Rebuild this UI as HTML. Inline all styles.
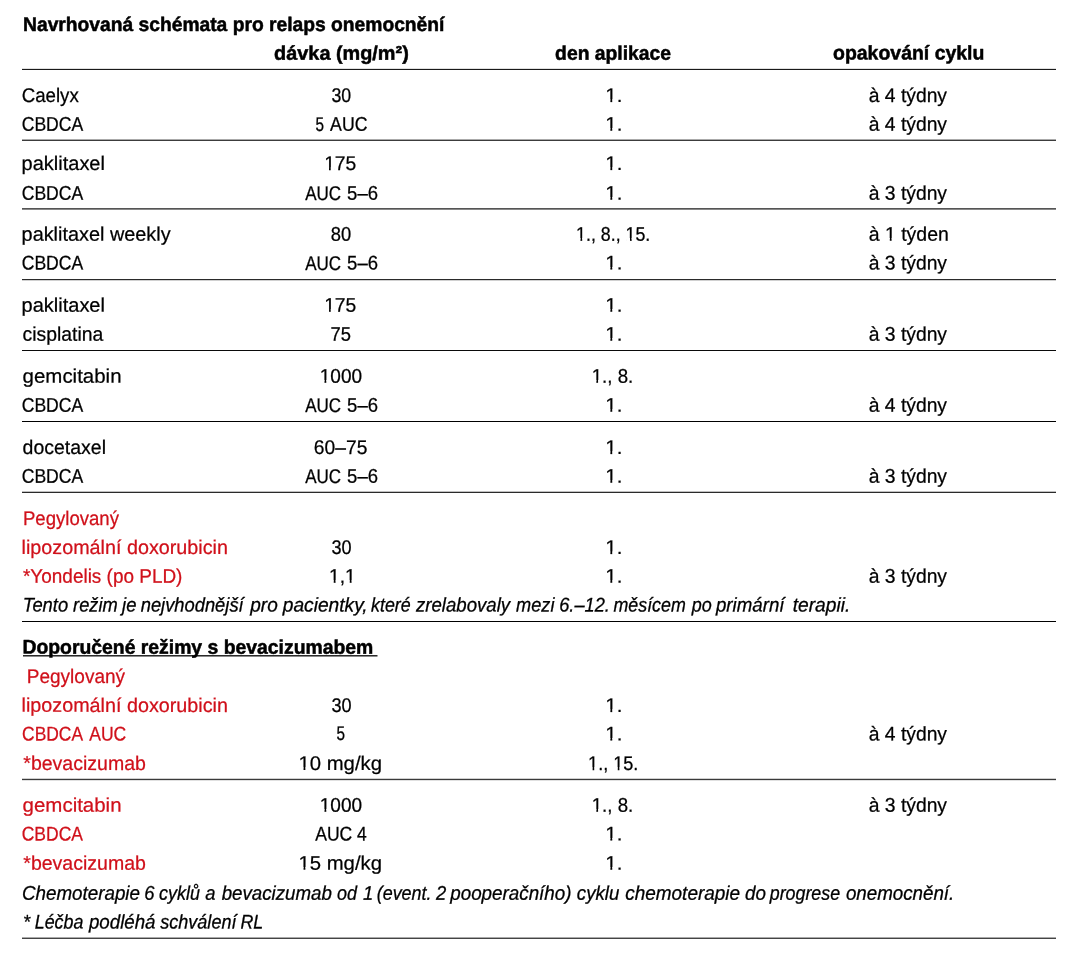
<!DOCTYPE html>
<html><head><meta charset="utf-8"><style>
html,body{margin:0;padding:0;background:#fff;}
svg{display:block;will-change:transform;}
text{font-family:"Liberation Sans",sans-serif;font-size:19.8px;white-space:pre;stroke-linejoin:round;}
</style></head><body>
<svg width="1078" height="956" viewBox="0 0 1078 956">
<defs><clipPath id="c6" clipPathUnits="userSpaceOnUse"><rect x="-5" y="-25" width="26.50" height="22.4"/><rect x="-5.00" y="-2.6" width="5.61" height="10"/><rect x="4.96" y="-2.6" width="1.79" height="10"/><rect x="10.95" y="-2.6" width="10.55" height="10"/></clipPath>
<clipPath id="c11" clipPathUnits="userSpaceOnUse"><rect x="-5" y="-25" width="26.50" height="22.4"/><rect x="-5.00" y="-2.6" width="5.61" height="10"/><rect x="4.96" y="-2.6" width="1.79" height="10"/><rect x="10.95" y="-2.6" width="10.55" height="10"/></clipPath>
<clipPath id="c14" clipPathUnits="userSpaceOnUse"><rect x="-5" y="-25" width="43.00" height="22.4"/><rect x="-5.00" y="-2.6" width="5.61" height="10"/><rect x="4.96" y="-2.6" width="1.79" height="10"/><rect x="10.95" y="-2.6" width="27.06" height="10"/></clipPath>
<clipPath id="c15" clipPathUnits="userSpaceOnUse"><rect x="-5" y="-25" width="26.50" height="22.4"/><rect x="-5.00" y="-2.6" width="5.61" height="10"/><rect x="4.96" y="-2.6" width="1.79" height="10"/><rect x="10.95" y="-2.6" width="10.55" height="10"/></clipPath>
<clipPath id="c19" clipPathUnits="userSpaceOnUse"><rect x="-5" y="-25" width="26.50" height="22.4"/><rect x="-5.00" y="-2.6" width="5.61" height="10"/><rect x="4.96" y="-2.6" width="1.79" height="10"/><rect x="10.95" y="-2.6" width="10.55" height="10"/></clipPath>
<clipPath id="c23" clipPathUnits="userSpaceOnUse"><rect x="-5" y="-25" width="92.48" height="22.4"/><rect x="-5.00" y="-2.6" width="5.61" height="10"/><rect x="4.96" y="-2.6" width="1.79" height="10"/><rect x="10.95" y="-2.6" width="44.64" height="10"/><rect x="59.94" y="-2.6" width="1.79" height="10"/><rect x="65.92" y="-2.6" width="21.55" height="10"/></clipPath>
<clipPath id="c24" clipPathUnits="userSpaceOnUse"><rect x="-5" y="-25" width="91.39" height="22.4"/><rect x="-5.00" y="-2.6" width="22.11" height="10"/><rect x="21.46" y="-2.6" width="1.79" height="10"/><rect x="27.44" y="-2.6" width="58.94" height="10"/></clipPath>
<clipPath id="c28" clipPathUnits="userSpaceOnUse"><rect x="-5" y="-25" width="26.50" height="22.4"/><rect x="-5.00" y="-2.6" width="5.61" height="10"/><rect x="4.96" y="-2.6" width="1.79" height="10"/><rect x="10.95" y="-2.6" width="10.55" height="10"/></clipPath>
<clipPath id="c31" clipPathUnits="userSpaceOnUse"><rect x="-5" y="-25" width="43.00" height="22.4"/><rect x="-5.00" y="-2.6" width="5.61" height="10"/><rect x="4.96" y="-2.6" width="1.79" height="10"/><rect x="10.95" y="-2.6" width="27.06" height="10"/></clipPath>
<clipPath id="c32" clipPathUnits="userSpaceOnUse"><rect x="-5" y="-25" width="26.50" height="22.4"/><rect x="-5.00" y="-2.6" width="5.61" height="10"/><rect x="4.96" y="-2.6" width="1.79" height="10"/><rect x="10.95" y="-2.6" width="10.55" height="10"/></clipPath>
<clipPath id="c35" clipPathUnits="userSpaceOnUse"><rect x="-5" y="-25" width="26.50" height="22.4"/><rect x="-5.00" y="-2.6" width="5.61" height="10"/><rect x="4.96" y="-2.6" width="1.79" height="10"/><rect x="10.95" y="-2.6" width="10.55" height="10"/></clipPath>
<clipPath id="c38" clipPathUnits="userSpaceOnUse"><rect x="-5" y="-25" width="54.01" height="22.4"/><rect x="-5.00" y="-2.6" width="5.61" height="10"/><rect x="4.96" y="-2.6" width="1.79" height="10"/><rect x="10.95" y="-2.6" width="38.06" height="10"/></clipPath>
<clipPath id="c39" clipPathUnits="userSpaceOnUse"><rect x="-5" y="-25" width="53.99" height="22.4"/><rect x="-5.00" y="-2.6" width="5.61" height="10"/><rect x="4.96" y="-2.6" width="1.79" height="10"/><rect x="10.95" y="-2.6" width="38.04" height="10"/></clipPath>
<clipPath id="c43" clipPathUnits="userSpaceOnUse"><rect x="-5" y="-25" width="26.50" height="22.4"/><rect x="-5.00" y="-2.6" width="5.61" height="10"/><rect x="4.96" y="-2.6" width="1.79" height="10"/><rect x="10.95" y="-2.6" width="10.55" height="10"/></clipPath>
<clipPath id="c47" clipPathUnits="userSpaceOnUse"><rect x="-5" y="-25" width="26.50" height="22.4"/><rect x="-5.00" y="-2.6" width="5.61" height="10"/><rect x="4.96" y="-2.6" width="1.79" height="10"/><rect x="10.95" y="-2.6" width="10.55" height="10"/></clipPath>
<clipPath id="c51" clipPathUnits="userSpaceOnUse"><rect x="-5" y="-25" width="26.50" height="22.4"/><rect x="-5.00" y="-2.6" width="5.61" height="10"/><rect x="4.96" y="-2.6" width="1.79" height="10"/><rect x="10.95" y="-2.6" width="10.55" height="10"/></clipPath>
<clipPath id="c56" clipPathUnits="userSpaceOnUse"><rect x="-5" y="-25" width="26.50" height="22.4"/><rect x="-5.00" y="-2.6" width="5.61" height="10"/><rect x="4.96" y="-2.6" width="1.79" height="10"/><rect x="10.95" y="-2.6" width="10.55" height="10"/></clipPath>
<clipPath id="c58" clipPathUnits="userSpaceOnUse"><rect x="-5" y="-25" width="37.50" height="22.4"/><rect x="-5.00" y="-2.6" width="5.61" height="10"/><rect x="4.96" y="-2.6" width="1.79" height="10"/><rect x="10.95" y="-2.6" width="6.16" height="10"/><rect x="21.46" y="-2.6" width="1.79" height="10"/><rect x="27.44" y="-2.6" width="5.06" height="10"/></clipPath>
<clipPath id="c59" clipPathUnits="userSpaceOnUse"><rect x="-5" y="-25" width="26.50" height="22.4"/><rect x="-5.00" y="-2.6" width="5.61" height="10"/><rect x="4.96" y="-2.6" width="1.79" height="10"/><rect x="10.95" y="-2.6" width="10.55" height="10"/></clipPath>
<clipPath id="c79" clipPathUnits="userSpaceOnUse"><rect x="-5" y="-25" width="26.50" height="22.4"/><rect x="-5.00" y="-2.6" width="5.61" height="10"/><rect x="4.96" y="-2.6" width="1.79" height="10"/><rect x="10.95" y="-2.6" width="10.55" height="10"/></clipPath>
<clipPath id="c83" clipPathUnits="userSpaceOnUse"><rect x="-5" y="-25" width="26.50" height="22.4"/><rect x="-5.00" y="-2.6" width="5.61" height="10"/><rect x="4.96" y="-2.6" width="1.79" height="10"/><rect x="10.95" y="-2.6" width="10.55" height="10"/></clipPath>
<clipPath id="c86" clipPathUnits="userSpaceOnUse"><rect x="-5" y="-25" width="91.37" height="22.4"/><rect x="-5.00" y="-2.6" width="5.61" height="10"/><rect x="4.96" y="-2.6" width="1.79" height="10"/><rect x="10.95" y="-2.6" width="75.42" height="10"/></clipPath>
<clipPath id="c87" clipPathUnits="userSpaceOnUse"><rect x="-5" y="-25" width="64.99" height="22.4"/><rect x="-5.00" y="-2.6" width="5.61" height="10"/><rect x="4.96" y="-2.6" width="1.79" height="10"/><rect x="10.95" y="-2.6" width="17.15" height="10"/><rect x="32.45" y="-2.6" width="1.79" height="10"/><rect x="38.43" y="-2.6" width="21.55" height="10"/></clipPath>
<clipPath id="c89" clipPathUnits="userSpaceOnUse"><rect x="-5" y="-25" width="54.01" height="22.4"/><rect x="-5.00" y="-2.6" width="5.61" height="10"/><rect x="4.96" y="-2.6" width="1.79" height="10"/><rect x="10.95" y="-2.6" width="38.06" height="10"/></clipPath>
<clipPath id="c90" clipPathUnits="userSpaceOnUse"><rect x="-5" y="-25" width="53.99" height="22.4"/><rect x="-5.00" y="-2.6" width="5.61" height="10"/><rect x="4.96" y="-2.6" width="1.79" height="10"/><rect x="10.95" y="-2.6" width="38.04" height="10"/></clipPath>
<clipPath id="c95" clipPathUnits="userSpaceOnUse"><rect x="-5" y="-25" width="26.50" height="22.4"/><rect x="-5.00" y="-2.6" width="5.61" height="10"/><rect x="4.96" y="-2.6" width="1.79" height="10"/><rect x="10.95" y="-2.6" width="10.55" height="10"/></clipPath>
<clipPath id="c97" clipPathUnits="userSpaceOnUse"><rect x="-5" y="-25" width="91.37" height="22.4"/><rect x="-5.00" y="-2.6" width="5.61" height="10"/><rect x="4.96" y="-2.6" width="1.79" height="10"/><rect x="10.95" y="-2.6" width="75.42" height="10"/></clipPath>
<clipPath id="c98" clipPathUnits="userSpaceOnUse"><rect x="-5" y="-25" width="26.50" height="22.4"/><rect x="-5.00" y="-2.6" width="5.61" height="10"/><rect x="4.96" y="-2.6" width="1.79" height="10"/><rect x="10.95" y="-2.6" width="10.55" height="10"/></clipPath></defs>
<rect width="1078" height="956" fill="#fff"/>
<rect x="22" y="68" width="1034" height="1" fill="#e0e0e0"/>
<rect x="22" y="69" width="1034" height="1" fill="#1a1a1a"/>
<rect x="22" y="139" width="1034" height="1" fill="#aaaaaa"/>
<rect x="22" y="140" width="1034" height="1" fill="#3c3c3c"/>
<rect x="22" y="208" width="1034" height="1" fill="#555555"/>
<rect x="22" y="209" width="1034" height="1" fill="#888888"/>
<rect x="22" y="279" width="1034" height="1" fill="#2a2a2a"/>
<rect x="22" y="280" width="1034" height="1" fill="#d0d0d0"/>
<rect x="22" y="350" width="1034" height="1" fill="#0a0a0a"/>
<rect x="22" y="421" width="1034" height="1" fill="#000000"/>
<rect x="22" y="491" width="1034" height="1" fill="#c0c0c0"/>
<rect x="22" y="492" width="1034" height="1" fill="#2a2a2a"/>
<rect x="22" y="621" width="1034" height="1" fill="#000000"/>
<rect x="22" y="778" width="1034" height="1" fill="#d0d0d0"/>
<rect x="22" y="779" width="1034" height="1" fill="#3a3a3a"/>
<rect x="22" y="780" width="1034" height="1" fill="#e0e0e0"/>
<rect x="22" y="937" width="1034" height="1" fill="#aaaaaa"/>
<rect x="22" y="938" width="1034" height="1" fill="#444444"/>
<rect x="23" y="655" width="354.5" height="1" fill="#2a2a2a"/>
<rect x="23" y="656" width="354.5" height="1" fill="#8a8a8a"/>
<text transform="translate(234.90 31.00) rotate(0.03) translate(-211.87 0) scale(0.9727 1)" font-weight="bold" fill="#000" stroke="#000" stroke-width="0.50">Navrhovaná schémata pro relaps onemocnění</text>
<text transform="translate(341.10 59.70) rotate(0.03) translate(-67.00 0) scale(1.0036 1)" font-weight="bold" fill="#000" stroke="#000" stroke-width="0.50">dávka (mg/m²)</text>
<text transform="translate(613.05 59.80) rotate(0.03) translate(-57.95 0) scale(0.9760 1)" font-weight="bold" fill="#000" stroke="#000" stroke-width="0.50">den aplikace</text>
<text transform="translate(908.15 59.50) rotate(0.03) translate(-75.15 0) scale(0.9834 1)" font-weight="bold" fill="#000" stroke="#000" stroke-width="0.50">opakování cyklu</text>
<text transform="translate(50.70 101.90) rotate(0.03) translate(-29.04 0) scale(0.9434 1)" fill="#000" stroke="#000" stroke-width="0.25">Caelyx</text>
<text transform="translate(341.35 101.90) rotate(0.03) translate(-9.85 0) scale(0.8954 1)" fill="#000" stroke="#000" stroke-width="0.27">30</text>
<text transform="translate(613.80 101.90) rotate(0.03) translate(-8.58 0) scale(1.0384 1)" fill="#000" stroke="#000" stroke-width="0.23" clip-path="url(#c6)">1.</text>
<text transform="translate(907.90 101.90) rotate(0.03) translate(-39.20 0) scale(0.9753 1)" fill="#000" stroke="#000" stroke-width="0.25">à 4 týdny</text>
<text transform="translate(53.25 130.70) rotate(0.03) translate(-31.54 0) scale(0.8878 1)" fill="#000" stroke="#000" stroke-width="0.27">CBDCA</text>
<text transform="translate(319.85 130.70) rotate(0.03) translate(-4.25 0) scale(0.7727 1)" fill="#000" stroke="#000" stroke-width="0.31">5</text>
<text transform="translate(348.65 130.70) rotate(0.03) translate(-18.55 0) scale(0.8944 1)" fill="#000" stroke="#000" stroke-width="0.27">AUC</text>
<text transform="translate(613.80 130.70) rotate(0.03) translate(-8.58 0) scale(1.0384 1)" fill="#000" stroke="#000" stroke-width="0.23" clip-path="url(#c11)">1.</text>
<text transform="translate(907.90 130.70) rotate(0.03) translate(-39.20 0) scale(0.9753 1)" fill="#000" stroke="#000" stroke-width="0.25">à 4 týdny</text>
<text transform="translate(63.55 169.90) rotate(0.03) translate(-41.96 0) scale(1.0102 1)" fill="#000" stroke="#000" stroke-width="0.24">paklitaxel</text>
<text transform="translate(341.15 169.90) rotate(0.03) translate(-17.01 0) scale(0.9743 1)" fill="#000" stroke="#000" stroke-width="0.25" clip-path="url(#c14)">175</text>
<text transform="translate(613.80 169.90) rotate(0.03) translate(-8.58 0) scale(1.0384 1)" fill="#000" stroke="#000" stroke-width="0.23" clip-path="url(#c15)">1.</text>
<text transform="translate(53.25 199.70) rotate(0.03) translate(-31.54 0) scale(0.8878 1)" fill="#000" stroke="#000" stroke-width="0.27">CBDCA</text>
<text transform="translate(323.00 199.70) rotate(0.03) translate(-17.80 0) scale(0.8583 1)" fill="#000" stroke="#000" stroke-width="0.28">AUC</text>
<text transform="translate(362.55 199.70) rotate(0.03) translate(-15.45 0) scale(0.9363 1)" fill="#000" stroke="#000" stroke-width="0.26">5–6</text>
<text transform="translate(613.80 199.70) rotate(0.03) translate(-8.58 0) scale(1.0384 1)" fill="#000" stroke="#000" stroke-width="0.23" clip-path="url(#c19)">1.</text>
<text transform="translate(907.90 199.70) rotate(0.03) translate(-39.20 0) scale(0.9753 1)" fill="#000" stroke="#000" stroke-width="0.25">à 3 týdny</text>
<text transform="translate(96.60 240.70) rotate(0.03) translate(-75.00 0) scale(1.0031 1)" fill="#000" stroke="#000" stroke-width="0.24">paklitaxel weekly</text>
<text transform="translate(341.00 240.70) rotate(0.03) translate(-10.20 0) scale(0.9272 1)" fill="#000" stroke="#000" stroke-width="0.26">80</text>
<text transform="translate(613.35 240.70) rotate(0.03) translate(-37.26 0) scale(0.8991 1)" fill="#000" stroke="#000" stroke-width="0.27" clip-path="url(#c23)">1., 8., 15.</text>
<text transform="translate(908.25 240.70) rotate(0.03) translate(-39.55 0) scale(0.9840 1)" fill="#000" stroke="#000" stroke-width="0.24" clip-path="url(#c24)">à 1 týden</text>
<text transform="translate(53.25 269.60) rotate(0.03) translate(-31.54 0) scale(0.8878 1)" fill="#000" stroke="#000" stroke-width="0.27">CBDCA</text>
<text transform="translate(323.00 269.60) rotate(0.03) translate(-17.80 0) scale(0.8583 1)" fill="#000" stroke="#000" stroke-width="0.28">AUC</text>
<text transform="translate(362.55 269.60) rotate(0.03) translate(-15.45 0) scale(0.9363 1)" fill="#000" stroke="#000" stroke-width="0.26">5–6</text>
<text transform="translate(613.80 269.60) rotate(0.03) translate(-8.58 0) scale(1.0384 1)" fill="#000" stroke="#000" stroke-width="0.23" clip-path="url(#c28)">1.</text>
<text transform="translate(907.90 269.60) rotate(0.03) translate(-39.20 0) scale(0.9753 1)" fill="#000" stroke="#000" stroke-width="0.25">à 3 týdny</text>
<text transform="translate(63.55 311.70) rotate(0.03) translate(-41.96 0) scale(1.0102 1)" fill="#000" stroke="#000" stroke-width="0.24">paklitaxel</text>
<text transform="translate(341.15 311.70) rotate(0.03) translate(-17.01 0) scale(0.9743 1)" fill="#000" stroke="#000" stroke-width="0.25" clip-path="url(#c31)">175</text>
<text transform="translate(613.80 311.70) rotate(0.03) translate(-8.58 0) scale(1.0384 1)" fill="#000" stroke="#000" stroke-width="0.23" clip-path="url(#c32)">1.</text>
<text transform="translate(62.95 340.70) rotate(0.03) translate(-40.35 0) scale(0.9786 1)" fill="#000" stroke="#000" stroke-width="0.25">cisplatina</text>
<text transform="translate(341.25 340.70) rotate(0.03) translate(-10.68 0) scale(0.9285 1)" fill="#000" stroke="#000" stroke-width="0.26">75</text>
<text transform="translate(613.80 340.70) rotate(0.03) translate(-8.58 0) scale(1.0384 1)" fill="#000" stroke="#000" stroke-width="0.23" clip-path="url(#c35)">1.</text>
<text transform="translate(907.90 340.70) rotate(0.03) translate(-39.20 0) scale(0.9753 1)" fill="#000" stroke="#000" stroke-width="0.25">à 3 týdny</text>
<text transform="translate(71.50 382.70) rotate(0.03) translate(-48.90 0) scale(1.0332 1)" fill="#000" stroke="#000" stroke-width="0.23">gemcitabin</text>
<text transform="translate(341.85 382.70) rotate(0.03) translate(-22.08 0) scale(0.9620 1)" fill="#000" stroke="#000" stroke-width="0.25" clip-path="url(#c38)">1000</text>
<text transform="translate(612.65 382.70) rotate(0.03) translate(-20.95 0) scale(0.9437 1)" fill="#000" stroke="#000" stroke-width="0.25" clip-path="url(#c39)">1., 8.</text>
<text transform="translate(53.25 411.80) rotate(0.03) translate(-31.54 0) scale(0.8878 1)" fill="#000" stroke="#000" stroke-width="0.27">CBDCA</text>
<text transform="translate(323.00 411.80) rotate(0.03) translate(-17.80 0) scale(0.8583 1)" fill="#000" stroke="#000" stroke-width="0.28">AUC</text>
<text transform="translate(362.55 411.80) rotate(0.03) translate(-15.45 0) scale(0.9363 1)" fill="#000" stroke="#000" stroke-width="0.26">5–6</text>
<text transform="translate(613.80 411.80) rotate(0.03) translate(-8.58 0) scale(1.0384 1)" fill="#000" stroke="#000" stroke-width="0.23" clip-path="url(#c43)">1.</text>
<text transform="translate(907.90 411.80) rotate(0.03) translate(-39.20 0) scale(0.9753 1)" fill="#000" stroke="#000" stroke-width="0.25">à 4 týdny</text>
<text transform="translate(64.10 453.90) rotate(0.03) translate(-41.50 0) scale(0.9848 1)" fill="#000" stroke="#000" stroke-width="0.24">docetaxel</text>
<text transform="translate(341.05 453.90) rotate(0.03) translate(-27.22 0) scale(0.9721 1)" fill="#000" stroke="#000" stroke-width="0.25">60–75</text>
<text transform="translate(613.80 453.90) rotate(0.03) translate(-8.58 0) scale(1.0384 1)" fill="#000" stroke="#000" stroke-width="0.23" clip-path="url(#c47)">1.</text>
<text transform="translate(53.25 482.80) rotate(0.03) translate(-31.54 0) scale(0.8878 1)" fill="#000" stroke="#000" stroke-width="0.27">CBDCA</text>
<text transform="translate(323.00 482.80) rotate(0.03) translate(-17.80 0) scale(0.8583 1)" fill="#000" stroke="#000" stroke-width="0.28">AUC</text>
<text transform="translate(362.55 482.80) rotate(0.03) translate(-15.45 0) scale(0.9363 1)" fill="#000" stroke="#000" stroke-width="0.26">5–6</text>
<text transform="translate(613.80 482.80) rotate(0.03) translate(-8.58 0) scale(1.0384 1)" fill="#000" stroke="#000" stroke-width="0.23" clip-path="url(#c51)">1.</text>
<text transform="translate(907.90 482.80) rotate(0.03) translate(-39.20 0) scale(0.9753 1)" fill="#000" stroke="#000" stroke-width="0.25">à 3 týdny</text>
<text transform="translate(71.45 525.00) rotate(0.03) translate(-48.49 0) scale(0.9381 1)" fill="#d0101a" stroke="#d0101a" stroke-width="0.26">Pegylovaný</text>
<text transform="translate(124.70 554.00) rotate(0.03) translate(-103.10 0) scale(0.9975 1)" fill="#d0101a" stroke="#d0101a" stroke-width="0.24">lipozomální doxorubicin</text>
<text transform="translate(341.45 554.00) rotate(0.03) translate(-10.05 0) scale(0.9136 1)" fill="#000" stroke="#000" stroke-width="0.26">30</text>
<text transform="translate(613.80 554.00) rotate(0.03) translate(-8.58 0) scale(1.0384 1)" fill="#000" stroke="#000" stroke-width="0.23" clip-path="url(#c56)">1.</text>
<text transform="translate(102.40 582.80) rotate(0.03) translate(-79.40 0) scale(0.9576 1)" fill="#d0101a" stroke="#d0101a" stroke-width="0.25">*Yondelis (po PLD)</text>
<text transform="translate(341.15 582.80) rotate(0.03) translate(-12.20 0) scale(0.9708 1)" fill="#000" stroke="#000" stroke-width="0.25" clip-path="url(#c58)">1,1</text>
<text transform="translate(613.80 582.80) rotate(0.03) translate(-8.58 0) scale(1.0384 1)" fill="#000" stroke="#000" stroke-width="0.23" clip-path="url(#c59)">1.</text>
<text transform="translate(907.90 582.80) rotate(0.03) translate(-39.20 0) scale(0.9753 1)" fill="#000" stroke="#000" stroke-width="0.25">à 3 týdny</text>
<text transform="translate(45.95 611.50) rotate(0.03) translate(-23.08 0) scale(0.9275 1)" font-style="italic" fill="#000" stroke="#000" stroke-width="0.28">Tento</text>
<text transform="translate(95.20 611.50) rotate(0.03) translate(-22.10 0) scale(0.9233 1)" font-style="italic" fill="#000" stroke="#000" stroke-width="0.28">režim</text>
<text transform="translate(127.80 611.50) rotate(0.03) translate(-5.76 0) scale(0.9300 1)" font-style="italic" fill="#000" stroke="#000" stroke-width="0.28">je</text>
<text transform="translate(193.30 611.50) rotate(0.03) translate(-52.60 0) scale(0.9262 1)" font-style="italic" fill="#000" stroke="#000" stroke-width="0.28">nejvhodnější</text>
<text transform="translate(263.50 611.50) rotate(0.03) translate(-13.24 0) scale(0.9598 1)" font-style="italic" fill="#000" stroke="#000" stroke-width="0.28">pro</text>
<text transform="translate(324.00 611.50) rotate(0.03) translate(-41.23 0) scale(0.9690 1)" font-style="italic" fill="#000" stroke="#000" stroke-width="0.28">pacientky,</text>
<text transform="translate(390.90 611.50) rotate(0.03) translate(-19.79 0) scale(0.9000 1)" font-style="italic" fill="#000" stroke="#000" stroke-width="0.28">které</text>
<text transform="translate(463.10 611.50) rotate(0.03) translate(-47.06 0) scale(0.9397 1)" font-style="italic" fill="#000" stroke="#000" stroke-width="0.28">zrelabovaly</text>
<text transform="translate(535.55 611.50) rotate(0.03) translate(-19.45 0) scale(0.9181 1)" font-style="italic" fill="#000" stroke="#000" stroke-width="0.28">mezi</text>
<text transform="translate(584.30 611.50) rotate(0.03) translate(-25.12 0) scale(0.9219 1)" font-style="italic" fill="#000" stroke="#000" stroke-width="0.28">6.–12.</text>
<text transform="translate(649.40 611.50) rotate(0.03) translate(-35.89 0) scale(0.9000 1)" font-style="italic" fill="#000" stroke="#000" stroke-width="0.28">měsícem</text>
<text transform="translate(701.25 611.50) rotate(0.03) translate(-9.54 0) scale(0.9086 1)" font-style="italic" fill="#000" stroke="#000" stroke-width="0.28">po</text>
<text transform="translate(750.90 611.50) rotate(0.03) translate(-34.96 0) scale(0.9441 1)" font-style="italic" fill="#000" stroke="#000" stroke-width="0.28">primární</text>
<text transform="translate(820.75 611.50) rotate(0.03) translate(-28.05 0) scale(0.9693 1)" font-style="italic" fill="#000" stroke="#000" stroke-width="0.28">terapii.</text>
<text transform="translate(198.00 653.70) rotate(0.03) translate(-175.58 0) scale(0.9787 1)" font-weight="bold" fill="#000" stroke="#000" stroke-width="0.50">Doporučené režimy s bevacizumabem</text>
<text transform="translate(76.40 683.00) rotate(0.03) translate(-49.66 0) scale(0.9608 1)" fill="#d0101a" stroke="#d0101a" stroke-width="0.25">Pegylovaný</text>
<text transform="translate(124.70 711.90) rotate(0.03) translate(-103.10 0) scale(0.9975 1)" fill="#d0101a" stroke="#d0101a" stroke-width="0.24">lipozomální doxorubicin</text>
<text transform="translate(341.45 711.90) rotate(0.03) translate(-10.05 0) scale(0.9136 1)" fill="#000" stroke="#000" stroke-width="0.26">30</text>
<text transform="translate(613.80 711.90) rotate(0.03) translate(-8.58 0) scale(1.0384 1)" fill="#000" stroke="#000" stroke-width="0.23" clip-path="url(#c79)">1.</text>
<text transform="translate(53.35 740.50) rotate(0.03) translate(-31.23 0) scale(0.8791 1)" fill="#d0101a" stroke="#d0101a" stroke-width="0.27">CBDCA</text>
<text transform="translate(107.60 740.50) rotate(0.03) translate(-18.40 0) scale(0.8872 1)" fill="#d0101a" stroke="#d0101a" stroke-width="0.27">AUC</text>
<text transform="translate(340.65 740.50) rotate(0.03) translate(-4.25 0) scale(0.7727 1)" fill="#000" stroke="#000" stroke-width="0.31">5</text>
<text transform="translate(613.80 740.50) rotate(0.03) translate(-8.58 0) scale(1.0384 1)" fill="#000" stroke="#000" stroke-width="0.23" clip-path="url(#c83)">1.</text>
<text transform="translate(907.90 740.50) rotate(0.03) translate(-39.20 0) scale(0.9753 1)" fill="#000" stroke="#000" stroke-width="0.25">à 4 týdny</text>
<text transform="translate(84.55 769.90) rotate(0.03) translate(-61.25 0) scale(0.9859 1)" fill="#d0101a" stroke="#d0101a" stroke-width="0.24">*bevacizumab</text>
<text transform="translate(340.65 769.90) rotate(0.03) translate(-42.20 0) scale(1.0260 1)" fill="#000" stroke="#000" stroke-width="0.23" clip-path="url(#c86)">10 mg/kg</text>
<text transform="translate(613.40 769.90) rotate(0.03) translate(-25.34 0) scale(0.9150 1)" fill="#000" stroke="#000" stroke-width="0.26" clip-path="url(#c87)">1., 15.</text>
<text transform="translate(71.55 811.70) rotate(0.03) translate(-48.95 0) scale(1.0342 1)" fill="#d0101a" stroke="#d0101a" stroke-width="0.23">gemcitabin</text>
<text transform="translate(341.85 811.70) rotate(0.03) translate(-22.08 0) scale(0.9620 1)" fill="#000" stroke="#000" stroke-width="0.25" clip-path="url(#c89)">1000</text>
<text transform="translate(612.65 811.70) rotate(0.03) translate(-20.95 0) scale(0.9437 1)" fill="#000" stroke="#000" stroke-width="0.25" clip-path="url(#c90)">1., 8.</text>
<text transform="translate(907.90 811.70) rotate(0.03) translate(-39.20 0) scale(0.9753 1)" fill="#000" stroke="#000" stroke-width="0.25">à 3 týdny</text>
<text transform="translate(53.10 840.50) rotate(0.03) translate(-31.38 0) scale(0.8834 1)" fill="#d0101a" stroke="#d0101a" stroke-width="0.27">CBDCA</text>
<text transform="translate(333.60 840.50) rotate(0.03) translate(-18.40 0) scale(0.8872 1)" fill="#000" stroke="#000" stroke-width="0.27">AUC</text>
<text transform="translate(361.95 840.50) rotate(0.03) translate(-4.85 0) scale(0.8818 1)" fill="#000" stroke="#000" stroke-width="0.27">4</text>
<text transform="translate(613.80 840.50) rotate(0.03) translate(-8.58 0) scale(1.0384 1)" fill="#000" stroke="#000" stroke-width="0.23" clip-path="url(#c95)">1.</text>
<text transform="translate(84.55 869.70) rotate(0.03) translate(-61.25 0) scale(0.9859 1)" fill="#d0101a" stroke="#d0101a" stroke-width="0.24">*bevacizumab</text>
<text transform="translate(340.65 869.70) rotate(0.03) translate(-42.20 0) scale(1.0260 1)" fill="#000" stroke="#000" stroke-width="0.23" clip-path="url(#c97)">15 mg/kg</text>
<text transform="translate(613.80 869.70) rotate(0.03) translate(-8.58 0) scale(1.0384 1)" fill="#000" stroke="#000" stroke-width="0.23" clip-path="url(#c98)">1.</text>
<text transform="translate(81.45 899.80) rotate(0.03) translate(-59.40 0) scale(0.9485 1)" font-style="italic" fill="#000" stroke="#000" stroke-width="0.28">Chemoterapie</text>
<text transform="translate(149.90 899.80) rotate(0.03) translate(-5.58 0) scale(0.9300 1)" font-style="italic" fill="#000" stroke="#000" stroke-width="0.28">6</text>
<text transform="translate(179.55 899.80) rotate(0.03) translate(-20.45 0) scale(0.9075 1)" font-style="italic" fill="#000" stroke="#000" stroke-width="0.28">cyklů</text>
<text transform="translate(210.45 899.80) rotate(0.03) translate(-5.12 0) scale(0.9300 1)" font-style="italic" fill="#000" stroke="#000" stroke-width="0.28">a</text>
<text transform="translate(276.80 899.80) rotate(0.03) translate(-55.10 0) scale(0.9455 1)" font-style="italic" fill="#000" stroke="#000" stroke-width="0.28">bevacizumab</text>
<text transform="translate(347.35 899.80) rotate(0.03) translate(-10.45 0) scale(0.9086 1)" font-style="italic" fill="#000" stroke="#000" stroke-width="0.28">od</text>
<text transform="translate(367.55 899.80) rotate(0.03) translate(-4.65 0) scale(0.9300 1)" font-style="italic" fill="#000" stroke="#000" stroke-width="0.28">1</text>
<text transform="translate(403.40 899.80) rotate(0.03) translate(-26.70 0) scale(0.9054 1)" font-style="italic" fill="#000" stroke="#000" stroke-width="0.28">(event.</text>
<text transform="translate(440.60 899.80) rotate(0.03) translate(-4.65 0) scale(0.9300 1)" font-style="italic" fill="#000" stroke="#000" stroke-width="0.28">2</text>
<text transform="translate(510.10 899.80) rotate(0.03) translate(-59.85 0) scale(0.9501 1)" font-style="italic" fill="#000" stroke="#000" stroke-width="0.28">pooperačního)</text>
<text transform="translate(598.05 899.80) rotate(0.03) translate(-21.25 0) scale(0.9430 1)" font-style="italic" fill="#000" stroke="#000" stroke-width="0.28">cyklu</text>
<text transform="translate(682.65 899.80) rotate(0.03) translate(-57.45 0) scale(0.9587 1)" font-style="italic" fill="#000" stroke="#000" stroke-width="0.28">chemoterapie</text>
<text transform="translate(755.55 899.80) rotate(0.03) translate(-10.45 0) scale(0.9499 1)" font-style="italic" fill="#000" stroke="#000" stroke-width="0.28">do</text>
<text transform="translate(804.45 899.80) rotate(0.03) translate(-34.68 0) scale(0.9000 1)" font-style="italic" fill="#000" stroke="#000" stroke-width="0.28">progrese</text>
<text transform="translate(899.35 899.80) rotate(0.03) translate(-53.45 0) scale(0.9471 1)" font-style="italic" fill="#000" stroke="#000" stroke-width="0.28">onemocnění.</text>
<text transform="translate(27.65 928.60) rotate(0.03) translate(-4.65 0) scale(0.9300 1)" font-style="italic" fill="#000" stroke="#000" stroke-width="0.28">*</text>
<text transform="translate(59.00 928.60) rotate(0.03) translate(-24.25 0) scale(0.9000 1)" font-style="italic" fill="#000" stroke="#000" stroke-width="0.28">Léčba</text>
<text transform="translate(121.75 928.60) rotate(0.03) translate(-32.80 0) scale(0.9454 1)" font-style="italic" fill="#000" stroke="#000" stroke-width="0.28">podléhá</text>
<text transform="translate(199.50 928.60) rotate(0.03) translate(-39.20 0) scale(0.9109 1)" font-style="italic" fill="#000" stroke="#000" stroke-width="0.28">schválení</text>
<text transform="translate(251.35 928.60) rotate(0.03) translate(-10.93 0) scale(0.9000 1)" font-style="italic" fill="#000" stroke="#000" stroke-width="0.28">RL</text>
</svg>
</body></html>
